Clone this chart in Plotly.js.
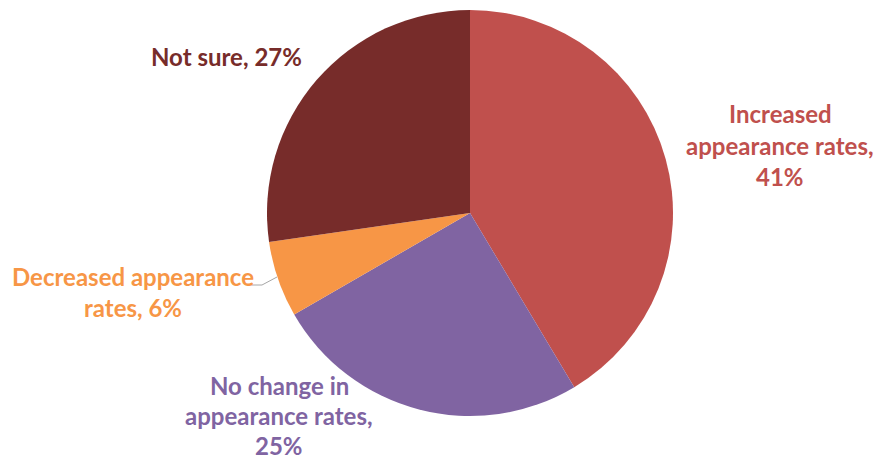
<!DOCTYPE html>
<html>
<head>
<meta charset="utf-8">
<script src="https://cdn.plot.ly/plotly-3.0.1.min.js"></script>
<style>html,body{margin:0;padding:0;background:#fff;}#chart{width:879px;height:462px;}</style>
</head>
<body>
<div id="chart"></div>
<script>
// Data
var categories = ["Increased appearance rates", "No change in appearance rates", "Decreased appearance rates", "Not sure"];
var values = [41, 25, 6, 27];
var colors = ["#C0504D", "#8064A2", "#F79646", "#772C2A"];
var labelLines = [
  ["Increased", "appearance rates,", "41%"],
  ["No change in", "appearance rates,", "25%"],
  ["Decreased appearance", "rates, 6%"],
  ["Not sure, 27%"]
];

var W = 879, H = 462;
var cx = 470, cy = 213, r = 203;
// label centres in pixels
var labelPos = [[780, 145], [279, 415], [133, 292], [227, 56]];
var textColors = ["#C0504D", "#8064A2", "#F79646", "#772C2A"];
var lineH = 31;

var annotations = [];
labelLines.forEach(function(lines, k) {
  var n = lines.length;
  var lh = (k === 1) ? 30 : lineH;
  lines.forEach(function(t, i) {
    var py = labelPos[k][1] + (i - (n - 1) / 2) * lh;
    annotations.push({
      text: t, xref: "paper", yref: "paper",
      x: labelPos[k][0] / W, y: 1 - py / H,
      xanchor: "center", yanchor: "middle", showarrow: false, borderpad: 0,
      font: {family: "Lato, 'Open Sans', sans-serif", size: 24, color: textColors[k], weight: 700}
    });
  });
});

var trace = {
  type: "pie",
  labels: categories,
  values: values,
  sort: false,
  direction: "clockwise",
  rotation: 0,
  marker: {colors: colors, line: {width: 0}},
  textinfo: "none",
  hoverinfo: "label+percent",
  showlegend: false,
  domain: {x: [(cx - r) / W, (cx + r) / W], y: [1 - (cy + r) / H, 1 - (cy - r) / H]}
};

var layout = {
  width: W, height: H,
  margin: {l: 0, r: 0, t: 0, b: 0},
  paper_bgcolor: "#fff",
  showlegend: false,
  annotations: annotations,
  shapes: [{
    type: "path", xref: "paper", yref: "paper",
    path: "M " + (250 / W) + "," + (1 - 285 / H) + " L " + (262 / W) + "," + (1 - 285 / H) + " L " + (277 / W) + "," + (1 - 277 / H),
    line: {color: "#A6A6A6", width: 1}
  }]
};

Plotly.newPlot("chart", [trace], layout, {staticPlot: true});
</script>
</body>
</html>
